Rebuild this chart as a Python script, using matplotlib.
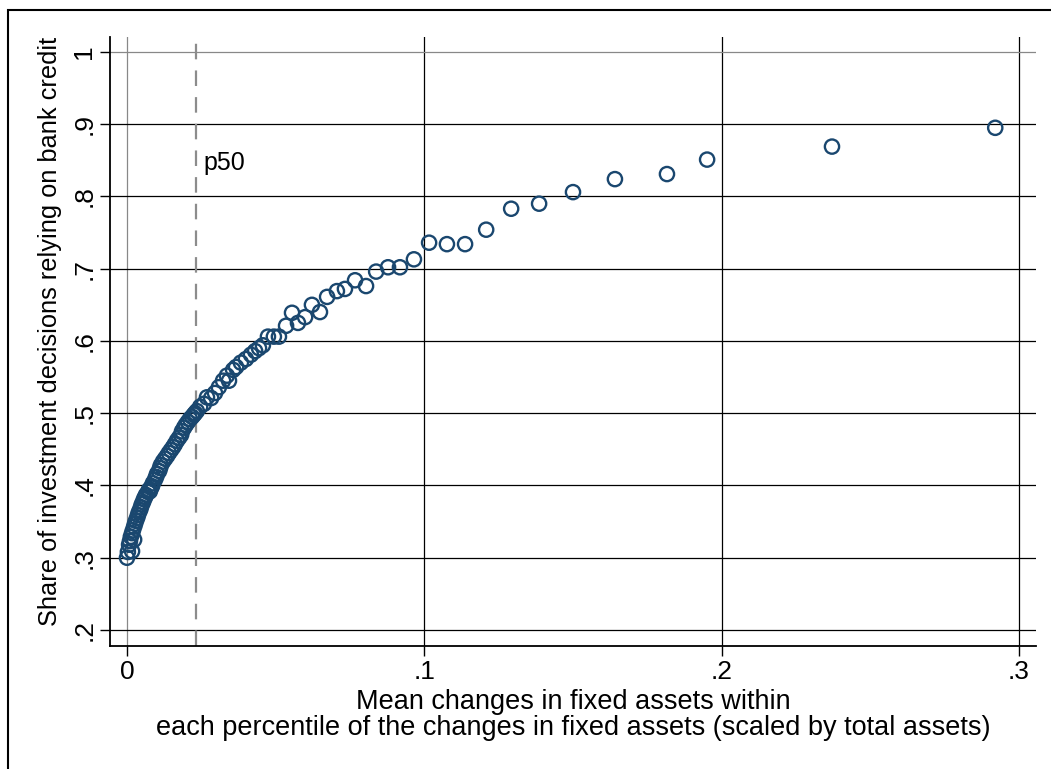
import matplotlib.pyplot as plt
from matplotlib.patches import Rectangle

plt.rcParams['font.family'] = ['Liberation Sans', 'DejaVu Sans']

# mean change in fixed assets per percentile (scaled by total assets)
x_mean = [0.0000, 0.0003, 0.0007, 0.0017, 0.0010, 0.0013, 0.0017, 0.0020, 0.0024, 0.0024,
          0.0027, 0.0030, 0.0034, 0.0037, 0.0040, 0.0044, 0.0047, 0.0050, 0.0054, 0.0057,
          0.0061, 0.0064, 0.0071, 0.0074, 0.0077, 0.0081, 0.0084, 0.0087, 0.0094, 0.0098,
          0.0101, 0.0108, 0.0111, 0.0114, 0.0121, 0.0128, 0.0135, 0.0141, 0.0148, 0.0155,
          0.0161, 0.0168, 0.0175, 0.0182, 0.0185, 0.0192, 0.0198, 0.0205, 0.0212, 0.0219,
          0.0225, 0.0229, 0.0235, 0.0246, 0.0259, 0.0269, 0.0283, 0.0296, 0.0309, 0.0323,
          0.0343, 0.0336, 0.0357, 0.0367, 0.0383, 0.0400, 0.0417, 0.0431, 0.0444, 0.0457,
          0.0474, 0.0494, 0.0511, 0.0535, 0.0555, 0.0575, 0.0599, 0.0622, 0.0649, 0.0673,
          0.0706, 0.0733, 0.0767, 0.0804, 0.0838, 0.0878, 0.0918, 0.0965, 0.1016, 0.1076,
          0.1137, 0.1208, 0.1292, 0.1386, 0.1500, 0.1641, 0.1816, 0.1951, 0.2371, 0.2920]

# share of investment decisions relying on bank credit
share_bank = [0.300, 0.308, 0.318, 0.309, 0.323, 0.329, 0.334, 0.338, 0.325, 0.343,
              0.347, 0.351, 0.355, 0.359, 0.363, 0.366, 0.370, 0.374, 0.377, 0.381,
              0.384, 0.387, 0.391, 0.394, 0.392, 0.397, 0.399, 0.403, 0.408, 0.412,
              0.416, 0.420, 0.424, 0.428, 0.433, 0.437, 0.441, 0.445, 0.449, 0.453,
              0.457, 0.462, 0.466, 0.470, 0.475, 0.480, 0.484, 0.488, 0.492, 0.495,
              0.498, 0.500, 0.503, 0.509, 0.513, 0.522, 0.521, 0.528, 0.536, 0.545,
              0.545, 0.552, 0.560, 0.564, 0.570, 0.575, 0.581, 0.586, 0.590, 0.594,
              0.606, 0.606, 0.606, 0.621, 0.639, 0.625, 0.633, 0.650, 0.640, 0.661,
              0.669, 0.672, 0.684, 0.676, 0.696, 0.702, 0.702, 0.713, 0.736, 0.734,
              0.734, 0.754, 0.783, 0.790, 0.806, 0.824, 0.831, 0.851, 0.869, 0.895]

p50 = 0.0232
xticks = [0, 0.1, 0.2, 0.3]
xticklabels = ['0', '.1', '.2', '.3']
yticks = [0.2, 0.3, 0.4, 0.5, 0.6, 0.7, 0.8, 0.9, 1.0]
yticklabels = ['.2', '.3', '.4', '.5', '.6', '.7', '.8', '.9', '1']

fig = plt.figure(figsize=(10.51, 7.69), dpi=100)
ax = fig.add_axes([0.1047, 0.16, 0.881, 0.792])

# outer frame (only top/left are inside the image)
fig.add_artist(Rectangle((0.0076, -0.05), 1.5, 0.987 + 0.05, transform=fig.transFigure,
                         fill=False, edgecolor='black', linewidth=1.5, clip_on=False))

ax.set_xlim(-0.0057, 0.3057)
ax.set_ylim(0.1779, 1.0208)

ax.set_xticks(xticks)
ax.set_xticklabels(xticklabels, fontsize=19)
ax.set_yticks(yticks)
ax.set_yticklabels(yticklabels, fontsize=19, rotation=90, va='center')

ax.grid(True, color='black', linewidth=0.9)
ax.set_axisbelow(True)
for gl in [ax.get_xgridlines()[0], ax.get_ygridlines()[-1]]:
    gl.set_color('#888888')

for s in ['top', 'right']:
    ax.spines[s].set_visible(False)
for s in ['left', 'bottom']:
    ax.spines[s].set_linewidth(1.3)
ax.tick_params(direction='out', length=7, width=1, pad=3)

ax.axvline(p50, color='#8c8c8c', linestyle=(0, (7, 5)), linewidth=1.6)
ax.text(p50 + 0.0025, 0.846, 'p50', fontsize=18, va='center', ha='left')

ax.scatter(x_mean, share_bank, s=105, facecolors='none', edgecolors='#1a476f',
           linewidths=1.7, zorder=3)

ax.set_xlabel('Mean changes in fixed assets within\n'
              'each percentile of the changes in fixed assets (scaled by total assets)',
              fontsize=19.5, linespacing=1.0, labelpad=4)
ax.set_ylabel('Share of investment decisions relying on bank credit', fontsize=18.3)
ax.yaxis.set_label_coords(-0.052, 0.517)

fig.savefig('out.png', dpi=100)
